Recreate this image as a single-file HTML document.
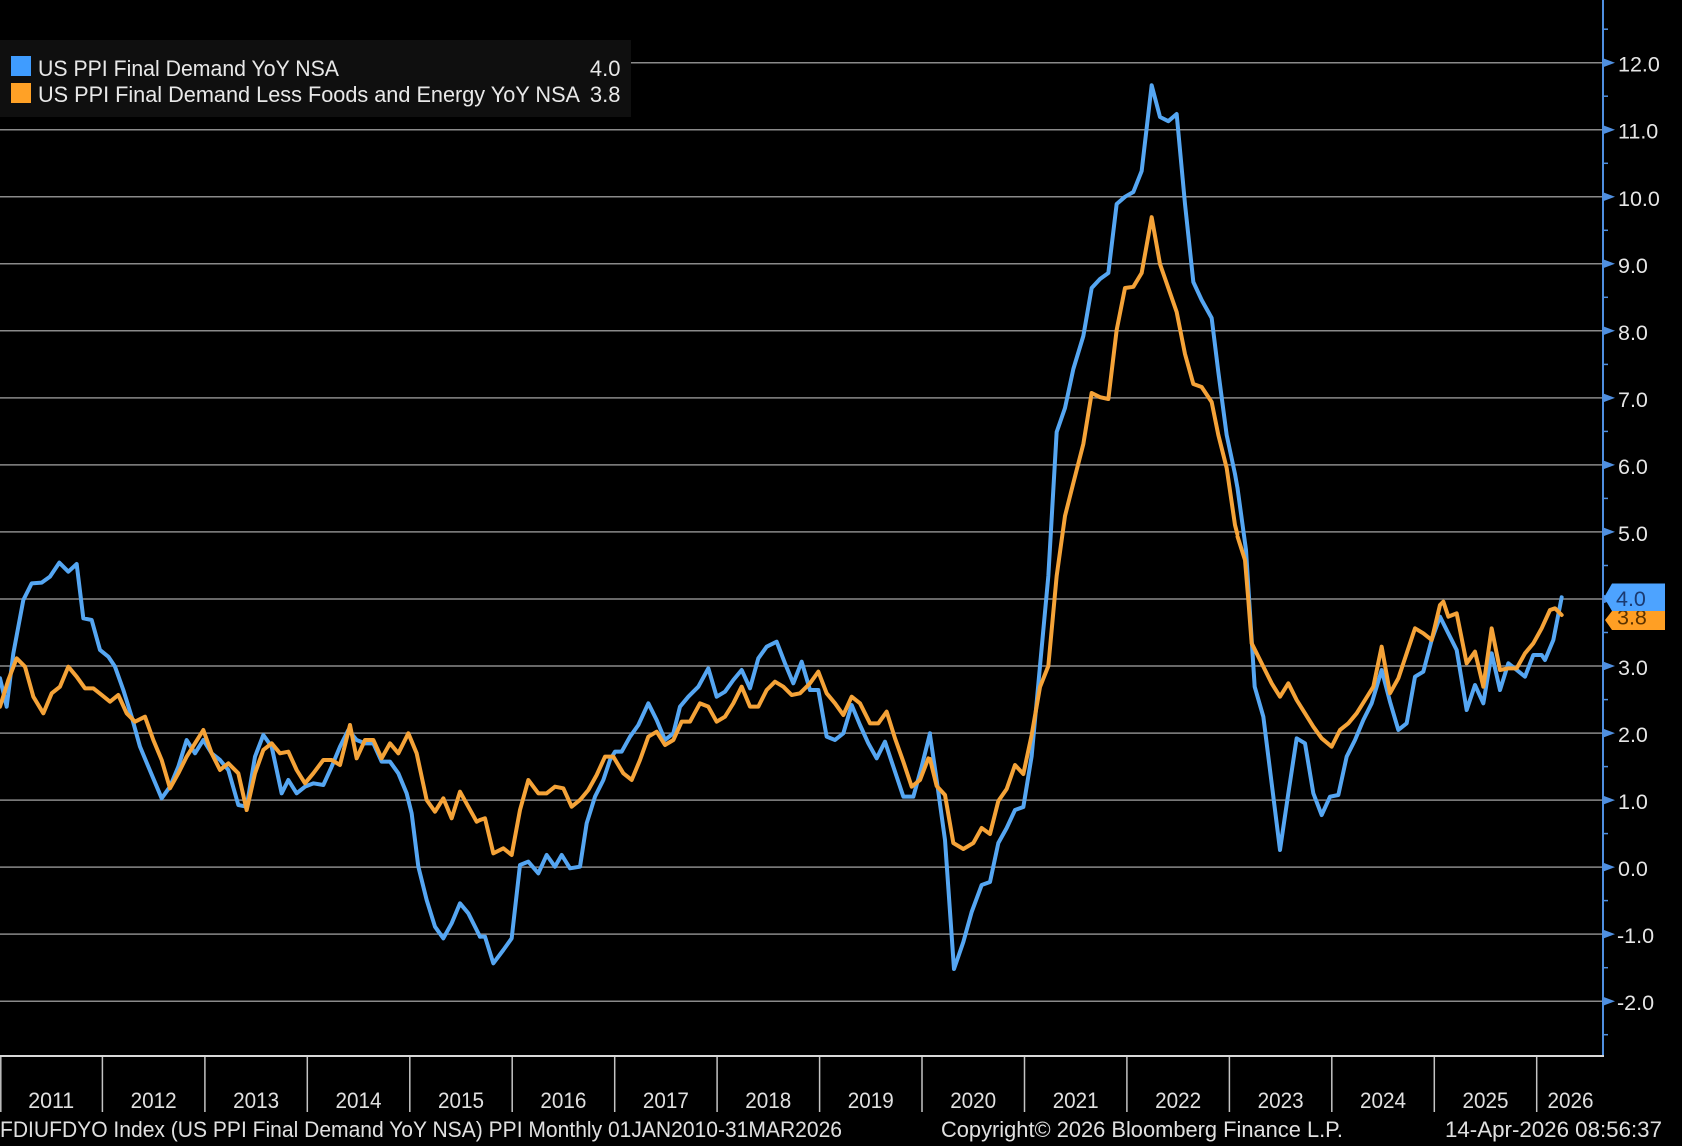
<!DOCTYPE html>
<html>
<head>
<meta charset="utf-8">
<style>
html,body{margin:0;padding:0;background:#000;}
svg{display:block;}
text{font-family:"Liberation Sans",Arial,sans-serif;}
</style>
</head>
<body>
<svg width="1682" height="1146" viewBox="0 0 1682 1146" xmlns="http://www.w3.org/2000/svg">
<rect x="0" y="0" width="1682" height="1146" fill="#000"/>

<!-- gridlines -->
<g stroke="#8a8a8a" stroke-width="1.5">
<line x1="0" y1="62.7" x2="1603" y2="62.7"/>
<line x1="0" y1="129.7" x2="1603" y2="129.7"/>
<line x1="0" y1="196.8" x2="1603" y2="196.8"/>
<line x1="0" y1="263.8" x2="1603" y2="263.8"/>
<line x1="0" y1="330.8" x2="1603" y2="330.8"/>
<line x1="0" y1="397.9" x2="1603" y2="397.9"/>
<line x1="0" y1="464.9" x2="1603" y2="464.9"/>
<line x1="0" y1="531.9" x2="1603" y2="531.9"/>
<line x1="0" y1="599.0" x2="1603" y2="599.0"/>
<line x1="0" y1="666.0" x2="1603" y2="666.0"/>
<line x1="0" y1="733.1" x2="1603" y2="733.1"/>
<line x1="0" y1="800.1" x2="1603" y2="800.1"/>
<line x1="0" y1="867.1" x2="1603" y2="867.1"/>
<line x1="0" y1="934.1" x2="1603" y2="934.1"/>
<line x1="0" y1="1001.2" x2="1603" y2="1001.2"/>
</g>

<!-- blue series -->
<g fill="none" stroke="#55a6f2" stroke-width="4" stroke-linejoin="round" stroke-linecap="round">
<polyline vector-effect="non-scaling-stroke" transform="translate(0 540) scale(0.33333)" points="0,415 20,500 40,340 70,180 95,130 125,128 150,110 178,68 205,95 230,72 250,235 275,240 300,330 325,350 345,380 370,450 395,530 420,620 445,680 485,775 510,740 535,680 560,600 585,640 610,600 635,640 660,660 685,690 715,795 740,800 765,650 790,585 815,620 845,760 865,720 890,760 915,740 940,730 970,735 995,680 1020,620 1045,570 1070,600 1095,610 1120,610 1145,665 1170,665 1195,700 1220,760 1235,820 1255,980 1280,1080 1305,1160 1330,1195 1355,1150 1380,1090 1405,1120 1440,1190"/>
<polyline vector-effect="non-scaling-stroke" transform="translate(470 540) scale(0.33333)" points="30,1190 45,1190 70,1270 100,1230 125,1195 150,975 175,965 205,1000 230,945 255,980 275,945 300,985 330,980 350,850 375,770 400,720 420,660 435,635 455,635 480,590 505,555 535,490 560,540 585,600 610,580 630,500 655,470 685,440 715,385 740,470 765,455 790,420 815,390 840,445 865,355 890,320 920,305 945,370 970,430 995,365 1020,450 1045,450 1070,590 1095,600 1120,580 1145,495 1170,555 1195,610 1220,655 1245,605 1270,680 1300,770 1330,770 1355,680 1380,580"/>
<polyline vector-effect="non-scaling-stroke" transform="translate(930 60) scale(0.33333 0.6)" points="0,1125 20,1200 45,1300 72,1515 100,1470 125,1420 155,1375 180,1370 205,1305 230,1280 255,1250 280,1245 305,1160 330,1010 355,860 380,620 405,580 430,515 460,460 485,380 510,365 535,355 560,240 585,228 610,220 635,185 665,42 690,95 715,102 740,90 765,240 790,370 815,400 845,430 865,520 890,625 915,690 922,712"/>
<polyline vector-effect="non-scaling-stroke" transform="translate(1230 500) scale(0.33333)" points="22.6,-35 48,150 74,560 100,650 125,850 150,1050 175,880 200,715 225,730 250,880 275,945 300,890 325,885 350,770 375,720 400,660 425,610 455,510 480,605 505,690 530,670 555,530 580,515 605,420 630,350 655,400 680,450 710,630 735,555 760,610 785,460 810,570 835,490 860,510 885,530 910,465 935,465 945,480 970,420 995,292"/>
</g>

<!-- orange series -->
<g fill="none" stroke="#f5a338" stroke-width="4" stroke-linejoin="round" stroke-linecap="round">
<polyline vector-effect="non-scaling-stroke" transform="translate(0 540) scale(0.33333)" points="0,500 25,420 50,355 75,380 100,470 130,520 155,460 180,440 205,380 230,410 255,445 280,445 305,465 330,485 355,465 380,520 405,545 435,530 460,600 485,660 510,745 535,700 560,650 585,610 610,570 635,640 660,690 685,670 715,700 740,810 765,700 790,630 815,610 840,640 865,635 890,690 915,730 940,700 970,660 995,660 1020,675 1050,555 1070,655 1095,600 1120,600 1145,655 1170,610 1195,640 1225,580 1250,640 1280,780 1305,815 1330,775 1355,835 1380,755 1405,800 1430,845 1440,840"/>
<polyline vector-effect="non-scaling-stroke" transform="translate(470 540) scale(0.33333)" points="30,840 45,835 70,940 100,925 125,945 150,810 175,720 205,760 230,760 255,740 280,745 305,800 330,780 355,750 380,705 405,650 430,650 460,700 485,720 510,660 535,590 560,575 585,615 610,600 635,545 660,545 690,490 715,500 740,545 765,530 790,490 815,440 840,500 865,500 890,450 915,425 940,440 965,465 990,460 1020,430 1045,395 1070,460 1095,490 1120,525 1145,470 1170,490 1200,550 1225,550 1250,515 1275,595 1300,665 1325,740 1350,720 1375,655 1380,660"/>
<polyline vector-effect="non-scaling-stroke" transform="translate(930 60) scale(0.33333 0.6)" points="0,1165 20,1210 45,1225 70,1305 100,1315 130,1305 155,1280 180,1290 205,1235 230,1215 255,1175 280,1190 305,1125 330,1045 355,1010 380,860 405,760 430,705 460,640 485,555 510,562 535,565 560,450 585,380 610,378 635,355 665,262 690,340 715,380 740,420 765,490 790,540 815,545 845,570 865,625 890,680 915,775 922,790"/>
<polyline vector-effect="non-scaling-stroke" transform="translate(1230 500) scale(0.33333)" points="22.6,110 45,180 55,300 65,430 100,500 125,550 150,590 175,550 200,600 225,640 250,680 275,715 305,740 330,690 355,670 380,640 405,600 430,560 455,440 480,580 505,535 530,460 555,385 580,400 605,420 630,315 640,305 655,350 680,340 710,490 735,455 760,560 785,385 810,510 835,505 860,505 885,460 910,430 935,385 960,330 975,325 995,345"/>
</g>

<!-- legend -->
<rect x="0" y="40" width="631" height="77" fill="#0f0f0f"/>
<rect x="11" y="56" width="20" height="20" fill="#3f9cff"/>
<rect x="11" y="83" width="20" height="20" fill="#ffa126"/>
<g fill="#e8e8e8" font-size="22">
<text x="38" y="76" textLength="301" lengthAdjust="spacingAndGlyphs">US PPI Final Demand YoY NSA</text>
<text x="620.5" y="76" text-anchor="end">4.0</text>
<text x="38" y="102" textLength="542" lengthAdjust="spacingAndGlyphs">US PPI Final Demand Less Foods and Energy YoY NSA</text>
<text x="620.5" y="102" text-anchor="end">3.8</text>
</g>

<!-- y axis -->
<line x1="1603" y1="0" x2="1603" y2="1057" stroke="#4f8fe0" stroke-width="2"/>
<g fill="#4f8fe0">
<polygon points="1603,58.2 1615,62.7 1603,67.2"/>
<polygon points="1603,125.2 1615,129.7 1603,134.2"/>
<polygon points="1603,192.3 1615,196.8 1603,201.3"/>
<polygon points="1603,259.3 1615,263.8 1603,268.3"/>
<polygon points="1603,326.3 1615,330.8 1603,335.3"/>
<polygon points="1603,393.4 1615,397.9 1603,402.4"/>
<polygon points="1603,460.4 1615,464.9 1603,469.4"/>
<polygon points="1603,527.4 1615,531.9 1603,536.4"/>
<polygon points="1603,594.5 1615,599.0 1603,603.5"/>
<polygon points="1603,661.5 1615,666.0 1603,670.5"/>
<polygon points="1603,728.6 1615,733.1 1603,737.6"/>
<polygon points="1603,795.6 1615,800.1 1603,804.6"/>
<polygon points="1603,862.6 1615,867.1 1603,871.6"/>
<polygon points="1603,929.6 1615,934.1 1603,938.6"/>
<polygon points="1603,996.7 1615,1001.2 1603,1005.7"/>
</g>
<g stroke="#4f8fe0" stroke-width="1.5">
<line x1="1603" y1="29.2" x2="1608" y2="29.2"/>
<line x1="1603" y1="96.2" x2="1608" y2="96.2"/>
<line x1="1603" y1="163.3" x2="1608" y2="163.3"/>
<line x1="1603" y1="230.3" x2="1608" y2="230.3"/>
<line x1="1603" y1="297.3" x2="1608" y2="297.3"/>
<line x1="1603" y1="364.4" x2="1608" y2="364.4"/>
<line x1="1603" y1="431.4" x2="1608" y2="431.4"/>
<line x1="1603" y1="498.4" x2="1608" y2="498.4"/>
<line x1="1603" y1="565.5" x2="1608" y2="565.5"/>
<line x1="1603" y1="632.5" x2="1608" y2="632.5"/>
<line x1="1603" y1="699.6" x2="1608" y2="699.6"/>
<line x1="1603" y1="766.6" x2="1608" y2="766.6"/>
<line x1="1603" y1="833.6" x2="1608" y2="833.6"/>
<line x1="1603" y1="900.6" x2="1608" y2="900.6"/>
<line x1="1603" y1="967.7" x2="1608" y2="967.7"/>
<line x1="1603" y1="1034.7" x2="1608" y2="1034.7"/>
</g>
<g fill="#e6e6e6" font-size="21.5">
<text x="1618" y="71.7">12.0</text>
<text x="1618" y="138.7">11.0</text>
<text x="1618" y="205.8">10.0</text>
<text x="1618" y="272.8">9.0</text>
<text x="1618" y="339.8">8.0</text>
<text x="1618" y="406.9">7.0</text>
<text x="1618" y="473.9">6.0</text>
<text x="1618" y="540.9">5.0</text>
<text x="1618" y="675.0">3.0</text>
<text x="1618" y="742.1">2.0</text>
<text x="1618" y="809.1">1.0</text>
<text x="1618" y="876.1">0.0</text>
<text x="1617" y="943.1">-1.0</text>
<text x="1617" y="1010.2">-2.0</text>
</g>

<!-- last value tags -->
<polygon points="1605,620 1612,611 1665,611 1665,630 1612,630" fill="#ff9f24"/>
<text x="1617" y="624.5" font-size="21.5" fill="#5a3200">3.8</text>
<polygon points="1604,597.5 1612,583.5 1665,583.5 1665,611 1612,611" fill="#4da3ff"/>
<text x="1616" y="606" font-size="21.5" fill="#1b3a70">4.0</text>

<!-- x axis -->
<line x1="0" y1="1056" x2="1604" y2="1056" stroke="#d8d8d8" stroke-width="2"/>
<g stroke="#c4c4c4" stroke-width="1.5">
<line x1="0.8" y1="1057" x2="0.8" y2="1112"/>
<line x1="102.4" y1="1057" x2="102.4" y2="1112"/>
<line x1="204.9" y1="1057" x2="204.9" y2="1112"/>
<line x1="307.3" y1="1057" x2="307.3" y2="1112"/>
<line x1="409.8" y1="1057" x2="409.8" y2="1112"/>
<line x1="512.2" y1="1057" x2="512.2" y2="1112"/>
<line x1="614.7" y1="1057" x2="614.7" y2="1112"/>
<line x1="717.1" y1="1057" x2="717.1" y2="1112"/>
<line x1="819.6" y1="1057" x2="819.6" y2="1112"/>
<line x1="922.0" y1="1057" x2="922.0" y2="1112"/>
<line x1="1024.5" y1="1057" x2="1024.5" y2="1112"/>
<line x1="1126.9" y1="1057" x2="1126.9" y2="1112"/>
<line x1="1229.4" y1="1057" x2="1229.4" y2="1112"/>
<line x1="1331.8" y1="1057" x2="1331.8" y2="1112"/>
<line x1="1434.3" y1="1057" x2="1434.3" y2="1112"/>
<line x1="1536.7" y1="1057" x2="1536.7" y2="1112"/>
</g>
<g fill="#e0e0e0" font-size="22" text-anchor="middle">
<text x="51.2" y="1108" textLength="46" lengthAdjust="spacingAndGlyphs">2011</text>
<text x="153.6" y="1108" textLength="46" lengthAdjust="spacingAndGlyphs">2012</text>
<text x="256.1" y="1108" textLength="46" lengthAdjust="spacingAndGlyphs">2013</text>
<text x="358.5" y="1108" textLength="46" lengthAdjust="spacingAndGlyphs">2014</text>
<text x="461.0" y="1108" textLength="46" lengthAdjust="spacingAndGlyphs">2015</text>
<text x="563.4" y="1108" textLength="46" lengthAdjust="spacingAndGlyphs">2016</text>
<text x="665.9" y="1108" textLength="46" lengthAdjust="spacingAndGlyphs">2017</text>
<text x="768.3" y="1108" textLength="46" lengthAdjust="spacingAndGlyphs">2018</text>
<text x="870.8" y="1108" textLength="46" lengthAdjust="spacingAndGlyphs">2019</text>
<text x="973.2" y="1108" textLength="46" lengthAdjust="spacingAndGlyphs">2020</text>
<text x="1075.7" y="1108" textLength="46" lengthAdjust="spacingAndGlyphs">2021</text>
<text x="1178.1" y="1108" textLength="46" lengthAdjust="spacingAndGlyphs">2022</text>
<text x="1280.6" y="1108" textLength="46" lengthAdjust="spacingAndGlyphs">2023</text>
<text x="1383.0" y="1108" textLength="46" lengthAdjust="spacingAndGlyphs">2024</text>
<text x="1485.5" y="1108" textLength="46" lengthAdjust="spacingAndGlyphs">2025</text>
<text x="1570.5" y="1108" textLength="46" lengthAdjust="spacingAndGlyphs">2026</text>
</g>

<!-- footer -->
<g fill="#e0e0e0" font-size="22">
<text x="0" y="1137" textLength="842" lengthAdjust="spacingAndGlyphs">FDIUFDYO Index (US PPI Final Demand YoY NSA) PPI Monthly 01JAN2010-31MAR2026</text>
<text x="941" y="1137" textLength="402" lengthAdjust="spacingAndGlyphs">Copyright© 2026 Bloomberg Finance L.P.</text>
<text x="1445" y="1137" textLength="217" lengthAdjust="spacingAndGlyphs">14-Apr-2026 08:56:37</text>
</g>
</svg>
</body>
</html>
